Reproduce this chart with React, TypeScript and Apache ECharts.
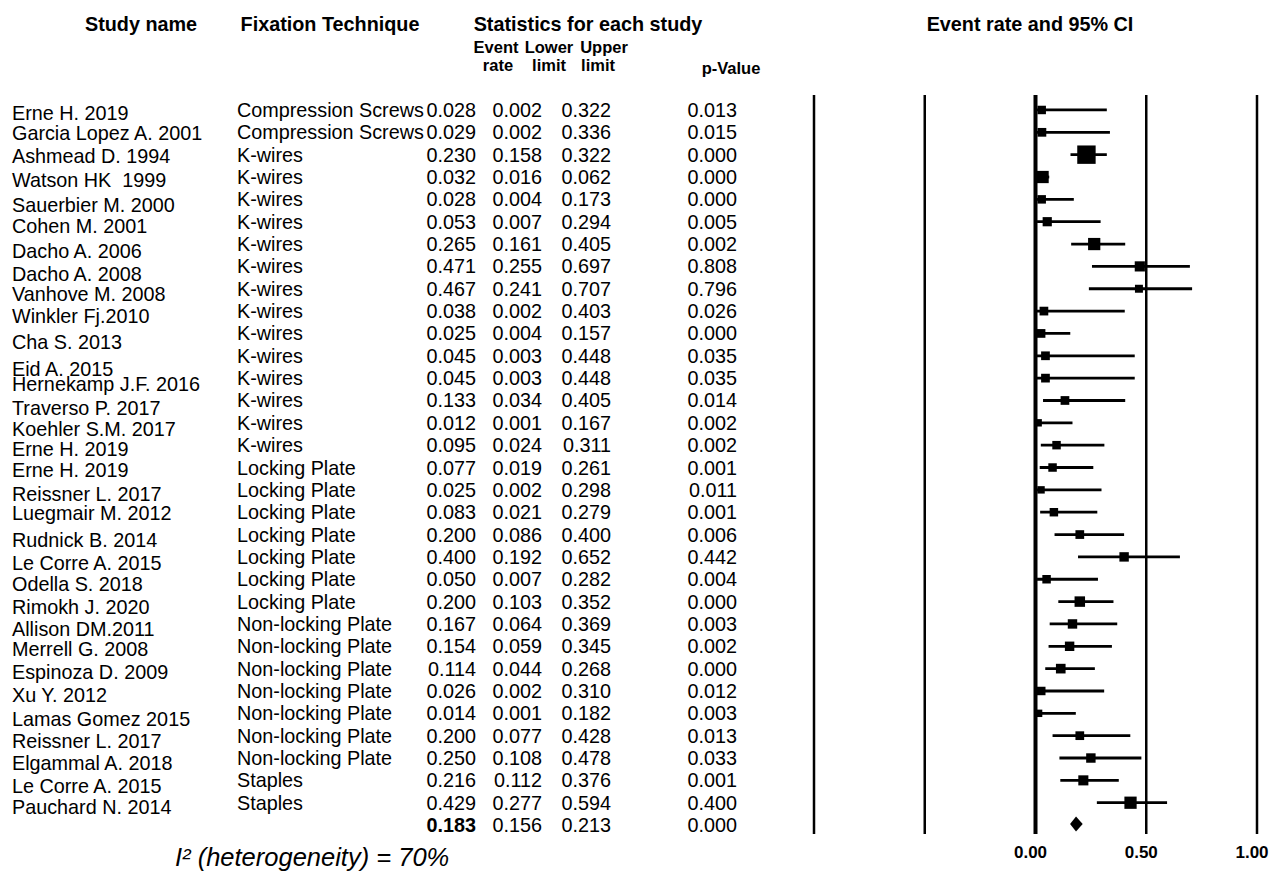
import React, { useEffect, useRef } from "react";
import * as echarts from "echarts";

// ---------------- DATA ----------------
const studyNames = [
  "Erne H. 2019", "Garcia Lopez A. 2001", "Ashmead D. 1994", "Watson HK  1999",
  "Sauerbier M. 2000", "Cohen M. 2001", "Dacho A. 2006", "Dacho A. 2008",
  "Vanhove M. 2008", "Winkler Fj.2010", "Cha S. 2013", "Eid A. 2015",
  "Hernekamp J.F. 2016", "Traverso P. 2017", "Koehler S.M. 2017", "Erne H. 2019",
  "Erne H. 2019", "Reissner L. 2017", "Luegmair M. 2012", "Rudnick B. 2014",
  "Le Corre A. 2015", "Odella S. 2018", "Rimokh J. 2020", "Allison DM.2011",
  "Merrell G. 2008", "Espinoza D. 2009", "Xu Y. 2012", "Lamas Gomez 2015",
  "Reissner L. 2017", "Elgammal A. 2018", "Le Corre A. 2015", "Pauchard N. 2014",
];
const fixations = [
  "Compression Screws", "Compression Screws",
  "K-wires", "K-wires", "K-wires", "K-wires", "K-wires", "K-wires", "K-wires",
  "K-wires", "K-wires", "K-wires", "K-wires", "K-wires", "K-wires", "K-wires",
  "Locking Plate", "Locking Plate", "Locking Plate", "Locking Plate",
  "Locking Plate", "Locking Plate", "Locking Plate",
  "Non-locking Plate", "Non-locking Plate", "Non-locking Plate", "Non-locking Plate",
  "Non-locking Plate", "Non-locking Plate", "Non-locking Plate",
  "Staples", "Staples",
];
const eventRates = [
  0.028, 0.029, 0.230, 0.032, 0.028, 0.053, 0.265, 0.471, 0.467, 0.038, 0.025,
  0.045, 0.045, 0.133, 0.012, 0.095, 0.077, 0.025, 0.083, 0.200, 0.400, 0.050,
  0.200, 0.167, 0.154, 0.114, 0.026, 0.014, 0.200, 0.250, 0.216, 0.429,
];
const lowerLimits = [
  0.002, 0.002, 0.158, 0.016, 0.004, 0.007, 0.161, 0.255, 0.241, 0.002, 0.004,
  0.003, 0.003, 0.034, 0.001, 0.024, 0.019, 0.002, 0.021, 0.086, 0.192, 0.007,
  0.103, 0.064, 0.059, 0.044, 0.002, 0.001, 0.077, 0.108, 0.112, 0.277,
];
const upperLimits = [
  0.322, 0.336, 0.322, 0.062, 0.173, 0.294, 0.405, 0.697, 0.707, 0.403, 0.157,
  0.448, 0.448, 0.405, 0.167, 0.311, 0.261, 0.298, 0.279, 0.400, 0.652, 0.282,
  0.352, 0.369, 0.345, 0.268, 0.310, 0.182, 0.428, 0.478, 0.376, 0.594,
];
const pValues = [
  "0.013", "0.015", "0.000", "0.000", "0.000", "0.005", "0.002", "0.808",
  "0.796", "0.026", "0.000", "0.035", "0.035", "0.014", "0.002", "0.002",
  "0.001", "0.011", "0.001", "0.006", "0.442", "0.004", "0.000", "0.003",
  "0.002", "0.000", "0.012", "0.003", "0.013", "0.033", "0.001", "0.400",
];
// relative study weights
const relWeights = [
  3.4, 3.6, 16, 7.1, 3.4, 4.0, 7.1, 4.9, 3.0, 3.6, 3.6, 3.6, 3.6, 3.6, 2.6, 3.4,
  3.4, 2.6, 3.4, 3.6, 4.2, 3.4, 5.2, 4.2, 4.2, 4.4, 3.4, 2.6, 3.6, 4.2, 4.8, 7.1,
];
const summaryRate = 0.183;
const summaryLower = 0.156;
const summaryUpper = 0.213;
const summaryP = "0.000";
const referenceTicks = [-1, -0.5, 0, 0.5, 1];
const heterogeneityText = "I\u00B2 (heterogeneity) = 70%";

// ---------------- LAYOUT ----------------
const W = 1272;
const H = 873;
const GRID_TOP = 95;
const GRID_H = 739;
const PLOT_LEFT = 814;
const PLOT_RIGHT_GAP = 15;
const ROW_MIN = -0.67;
const ROW_MAX = 32.4;
const FONT = '"Liberation Sans", Arial, Helvetica, sans-serif';
const BODY_SIZE = 19.8;
const SUB_SIZE = 16.5;
// small vertical nudges of the study-name column (as in the reference)
const nameNudge = [3, 1, 1, 3, 6, 4, 7, 8, 5, 5, 9, 13, 6, 8, 6, 4, 2, 4, 1, 5, 6, 5, 5, 5, 3, 3, 4, 6, 5, 5, 6, 4];
const COL = { name: 12, fix: 237, rate: 476, lower: 542, upper: 611, p: 737 };

function txt(text: string, x: number, y: number, align: string, opts: any = {}) {
  return {
    type: "text",
    x,
    y,
    style: {
      text,
      fill: "#000",
      fontSize: opts.size ?? BODY_SIZE,
      fontFamily: FONT,
      fontWeight: opts.weight ?? "normal",
      fontStyle: opts.style ?? "normal",
      align,
      verticalAlign: "middle",
      textAlign: align,
      textVerticalAlign: "middle",
    },
  };
}

export default function App() {
  const ref = useRef<HTMLDivElement>(null);

  useEffect(() => {
    if (!ref.current) return;
    const chart = echarts.init(ref.current, null, { renderer: "svg" });
    const nStudies = studyNames.length;
    const summaryRow = nStudies;

    const tableRows = studyNames.map((_, i) => [i]);
    tableRows.push([summaryRow]);

    const studyData = eventRates.map((r, i) => [r, i, lowerLimits[i], upperLimits[i], relWeights[i]]);

    const option: any = {
      animation: false,
      backgroundColor: "#fff",
      grid: [
        { left: PLOT_LEFT, right: PLOT_RIGHT_GAP, top: GRID_TOP, height: GRID_H },
        { left: 0, width: 800, top: GRID_TOP, height: GRID_H },
      ],
      xAxis: [
        {
          type: "value",
          gridIndex: 0,
          min: -1,
          max: 1,
          interval: 0.5,
          axisLine: { show: false },
          axisTick: { show: false },
          splitLine: { show: false },
          axisLabel: {
            show: true,
            margin: 10,
            color: "#000",
            fontSize: 17,
            fontWeight: "bold",
            fontFamily: FONT,
            padding: [0, 10, 0, 0],
            formatter: (v: number) => (v >= 0 ? v.toFixed(2) : ""),
          },
        },
        { type: "value", gridIndex: 1, min: 0, max: 800, show: false },
      ],
      yAxis: [
        { type: "value", gridIndex: 0, min: ROW_MIN, max: ROW_MAX, inverse: true, show: false },
        { type: "value", gridIndex: 1, min: ROW_MIN, max: ROW_MAX, inverse: true, show: false },
      ],
      graphic: [
        txt("Study name", 141, 24, "center", { weight: "bold" }),
        txt("Fixation Technique", 330, 24, "center", { weight: "bold" }),
        txt("Statistics for each study", 588, 24, "center", { weight: "bold" }),
        txt("Event rate and 95% CI", 1030, 24, "center", { weight: "bold" }),
        txt("Event", 496, 47, "center", { weight: "bold", size: SUB_SIZE }),
        txt("rate", 498, 65, "center", { weight: "bold", size: SUB_SIZE }),
        txt("Lower", 549, 47, "center", { weight: "bold", size: SUB_SIZE }),
        txt("limit", 549, 65, "center", { weight: "bold", size: SUB_SIZE }),
        txt("Upper", 604, 47, "center", { weight: "bold", size: SUB_SIZE }),
        txt("limit", 598, 65, "center", { weight: "bold", size: SUB_SIZE }),
        txt("p-Value", 731, 68, "center", { weight: "bold", size: SUB_SIZE }),
        txt(heterogeneityText, 175, 857, "left", { style: "italic", size: 25.5 }),
      ],
      series: [
        // reference vertical lines
        {
          type: "custom",
          xAxisIndex: 0,
          yAxisIndex: 0,
          silent: true,
          data: referenceTicks.map((v) => [v]),
          renderItem: (params: any, api: any) => {
            const v = api.value(0);
            const p1 = api.coord([v, ROW_MIN]);
            const p2 = api.coord([v, ROW_MAX]);
            return {
              type: "line",
              shape: { x1: p1[0], y1: p1[1], x2: p2[0], y2: p2[1] },
              style: { stroke: "#000", lineWidth: v === 0 ? 4 : 2.5 },
            };
          },
        },
        // study CIs and squares
        {
          type: "custom",
          xAxisIndex: 0,
          yAxisIndex: 0,
          silent: true,
          data: studyData,
          renderItem: (params: any, api: any) => {
            const r = api.value(0);
            const i = api.value(1);
            const lo = api.value(2);
            const hi = api.value(3);
            const w = api.value(4);
            const c = api.coord([r, i]);
            const a = api.coord([lo, i]);
            const b = api.coord([hi, i]);
            const s = 4.6 * Math.sqrt(w);
            return {
              type: "group",
              children: [
                {
                  type: "line",
                  shape: { x1: a[0], y1: a[1], x2: b[0], y2: b[1] },
                  style: { stroke: "#000", lineWidth: 2.8 },
                },
                {
                  type: "rect",
                  shape: { x: c[0] - s / 2, y: c[1] - s / 2, width: s, height: s },
                  style: { fill: "#000" },
                },
              ],
            };
          },
        },
        // summary diamond
        {
          type: "custom",
          xAxisIndex: 0,
          yAxisIndex: 0,
          silent: true,
          data: [[summaryRate, summaryRow, summaryLower, summaryUpper]],
          renderItem: (params: any, api: any) => {
            const c = api.coord([api.value(0), api.value(1)]);
            const a = api.coord([api.value(2), api.value(1)]);
            const b = api.coord([api.value(3), api.value(1)]);
            const hh = 7.5;
            return {
              type: "polygon",
              shape: {
                points: [
                  [a[0], c[1] - 1],
                  [c[0], c[1] - 1 - hh],
                  [b[0], c[1] - 1],
                  [c[0], c[1] - 1 + hh],
                ],
              },
              style: { fill: "#000" },
            };
          },
        },
        // table texts
        {
          type: "custom",
          xAxisIndex: 1,
          yAxisIndex: 1,
          silent: true,
          data: tableRows,
          renderItem: (params: any, api: any) => {
            const i = api.value(0);
            const y = api.coord([0, i])[1];
            const X = (v: number) => api.coord([v, i])[0];
            if (i === summaryRow) {
              return {
                type: "group",
                children: [
                  txt(summaryRate.toFixed(3), X(COL.rate), y, "right", { weight: "bold" }),
                  txt(summaryLower.toFixed(3), X(COL.lower), y, "right"),
                  txt(summaryUpper.toFixed(3), X(COL.upper), y, "right"),
                  txt(summaryP, X(COL.p), y, "right"),
                ],
              };
            }
            return {
              type: "group",
              children: [
                txt(studyNames[i], X(COL.name), y + nameNudge[i], "left"),
                txt(fixations[i], X(COL.fix), y, "left"),
                txt(eventRates[i].toFixed(3), X(COL.rate), y, "right"),
                txt(lowerLimits[i].toFixed(3), X(COL.lower), y, "right"),
                txt(upperLimits[i].toFixed(3), X(COL.upper), y, "right"),
                txt(pValues[i], X(COL.p), y, "right"),
              ],
            };
          },
        },
      ],
    };
    chart.setOption(option);
    return () => chart.dispose();
  }, []);

  return (
    <div
      ref={ref}
      style={{ position: "fixed", left: 0, top: 0, width: W, height: H, background: "#fff" }}
    />
  );
}
